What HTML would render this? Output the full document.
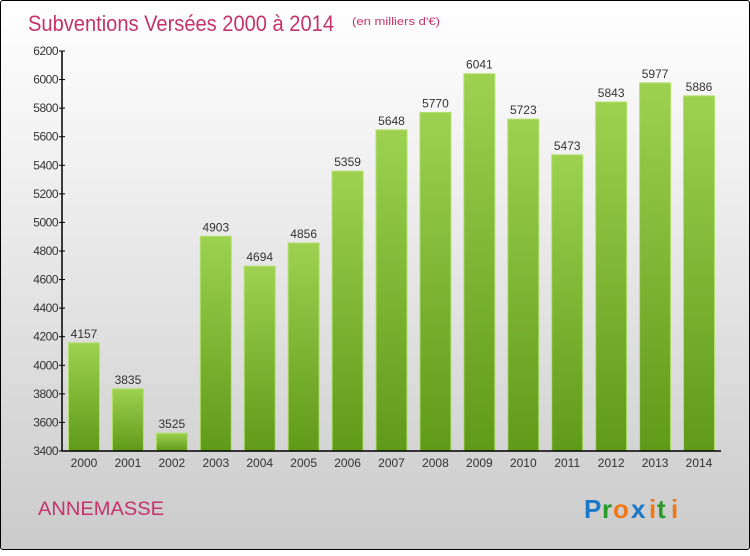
<!DOCTYPE html>
<html><head><meta charset="utf-8"><style>
body{margin:0;width:750px;height:550px;overflow:hidden;font-family:"Liberation Sans",sans-serif}
#wrap{position:absolute;left:0;top:0;width:748px;height:548px;border:1px solid #000;border-radius:3px;background:linear-gradient(#ffffff,#f3f3f3 25%,#d8d8d8 75%,#cbcbcb)}
</style></head><body>
<div id="wrap">
<svg width="750" height="550" id="svg">
<defs>
<linearGradient id="bg" x1="0" y1="0" x2="0" y2="1"><stop offset="0" stop-color="#9ed150"/><stop offset="1" stop-color="#5f9a18"/></linearGradient>
</defs>
<text x="27" y="30" font-size="22" fill="#c4336a" textLength="306" lengthAdjust="spacingAndGlyphs">Subventions Versées 2000 à 2014</text>
<text x="351" y="24" font-size="11" fill="#c4336a" textLength="88" lengthAdjust="spacingAndGlyphs">(en milliers d'€)</text>
<text x="37" y="514" font-size="19" fill="#c4336a" textLength="126" lengthAdjust="spacingAndGlyphs">ANNEMASSE</text>
<g font-size="26" font-weight="bold" font-family="Liberation Sans,sans-serif">
<text x="583" y="517" fill="#1a78c8">P</text><text x="601" y="517" fill="#2a9a2a">r</text><text x="612" y="517" fill="#f07818">o</text><text x="630" y="517" fill="#1a78c8">x</text><text x="648" y="517" fill="#f07818">i</text><text x="656" y="517" fill="#2a9a2a">t</text><text x="670" y="517" fill="#f07818">i</text>
</g>
<g id="plot"></g>
</svg></div>
<script>
const years=["2000","2001","2002","2003","2004","2005","2006","2007","2008","2009","2010","2011","2012","2013","2014"];
const values=[4157,3835,3525,4903,4694,4856,5359,5648,5770,6041,5723,5473,5843,5977,5886];
const yTicks=[3400,3600,3800,4000,4200,4400,4600,4800,5000,5200,5400,5600,5800,6000,6200];
const NS="http://www.w3.org/2000/svg";
const g=document.getElementById('plot');
const x0=61,x1=720,yTop=50,yBot=450,vMin=3400,vMax=6200;
const ys=v=>yBot-(v-vMin)/(vMax-vMin)*(yBot-yTop);
const step=43.93, xc=i=>83+i*step, bw=31;
function mk(t,a){const e=document.createElementNS(NS,t);for(const k in a)e.setAttribute(k,a[k]);g.appendChild(e);return e;}
values.forEach((v,i)=>{
 const r=mk('rect',{x:xc(i)-bw/2,y:ys(v),width:bw,height:yBot-ys(v),fill:'url(#bg)',stroke:'#b4e070','stroke-width':1});
 
 
 const t=mk('text',{x:xc(i),y:ys(v)-5,'font-size':12,'text-anchor':'middle',fill:'#333'});
 t.textContent=v;
 
 
 const xl=mk('text',{x:xc(i),y:466,'font-size':12,'text-anchor':'middle',fill:'#333'});
 xl.textContent=years[i];
 
 
});
yTicks.forEach(v=>{
 mk('line',{x1:x0-3,x2:x0+3,y1:ys(v),y2:ys(v),stroke:'#000'});
 const t=mk('text',{x:x0-4,y:ys(v)+4,'font-size':12,'text-anchor':'end',fill:'#333','letter-spacing':'-0.5'});
 t.textContent=v;
 
 
});
const ya=mk('line',{x1:x0,x2:x0,y1:yTop,y2:yBot,stroke:'#000','stroke-width':1.5});


const xa=mk('line',{x1:x0,x2:x1,y1:yBot,y2:yBot,stroke:'#000','stroke-width':1.5});


</script>
</body></html>
